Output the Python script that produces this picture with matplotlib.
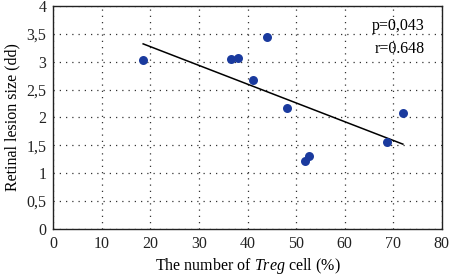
import numpy as np
import matplotlib
matplotlib.use("Agg")
import matplotlib.pyplot as plt

treg = [18.5, 36.5, 38.0, 44.1, 41.1, 48.1, 51.9, 52.6, 68.7, 72.0]
lesion = [3.03, 3.05, 3.06, 3.44, 2.68, 2.16, 1.21, 1.30, 1.56, 2.07]
xticks = [0, 10, 20, 30, 40, 50, 60, 70, 80]
yticks = [0, 0.5, 1, 1.5, 2, 2.5, 3, 3.5, 4]
ylabels = ["0", "0,5", "1", "1,5", "2", "2,5", "3", "3,5", "4"]

plt.rcParams['font.family'] = ['Liberation Serif', 'DejaVu Serif']
plt.rcParams['mathtext.fontset'] = 'custom'
plt.rcParams['mathtext.rm'] = 'Liberation Serif'
plt.rcParams['mathtext.it'] = 'Liberation Serif:italic'

fig = plt.figure(figsize=(4.49, 2.76), dpi=100)
ax = fig.add_axes([0.1188, 0.1714, 0.865, 0.8066])

ax.set_xlim(0, 80)
ax.set_ylim(0, 4)
ax.set_xticks(xticks)
ax.set_yticks(yticks)
ax.set_yticklabels(ylabels)
ax.tick_params(length=0, labelsize=11.5, pad=5, colors='#222222')
ax.grid(True, color='#333333', linestyle=(0, (1, 4)), linewidth=0.9)
ax.set_axisbelow(True)
for s in ax.spines.values():
    s.set_color('#222222')
    s.set_linewidth(1.0)

coef = np.polyfit(treg, lesion, 1)
xl = np.array([min(treg), max(treg)])
ax.plot(xl, np.polyval(coef, xl), color='black', linewidth=1.1, zorder=3)
ax.scatter(treg, lesion, s=42, color='#1a3a9e', zorder=4, linewidths=0)

ax.text(0.957, 0.912, "p=0,043", transform=ax.transAxes, ha='right', va='center', fontsize=11.5)
ax.text(0.957, 0.805, "r=0.648", transform=ax.transAxes, ha='right', va='center', fontsize=11.5)

ax.set_ylabel("Retinal lesion size (dd)", fontsize=11.5, labelpad=4)
ax.set_xlabel("The number of $\\it{Treg}$ cell (%)", fontsize=11.5, labelpad=3)

fig.savefig("out.png", dpi=100)
